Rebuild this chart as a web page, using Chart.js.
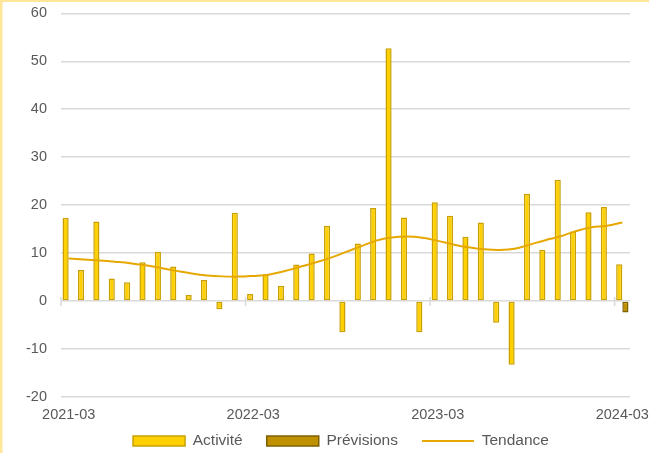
<!DOCTYPE html>
<html lang="fr">
<head>
<meta charset="utf-8">
<title>Activité mensuelle</title>
<script src="https://cdn.jsdelivr.net/npm/chart.js@4/dist/chart.umd.min.js"></script>
<style>
  html, body { margin: 0; padding: 0; background: #ffffff; }
  #wrap { position: relative; width: 649px; height: 453px; }
</style>
</head>
<body>
<div id="wrap"><canvas id="chart" width="649" height="453"></canvas></div>
<script>
// Monthly categories, March 2021 to March 2024
const mois = [
  '2021-03','2021-04','2021-05','2021-06','2021-07','2021-08','2021-09','2021-10','2021-11','2021-12',
  '2022-01','2022-02','2022-03','2022-04','2022-05','2022-06','2022-07','2022-08','2022-09','2022-10',
  '2022-11','2022-12','2023-01','2023-02','2023-03','2023-04','2023-05','2023-06','2023-07','2023-08',
  '2023-09','2023-10','2023-11','2023-12','2024-01','2024-02','2024-03'
];

// Observed activity
const activite = [
  17.3, 6.5, 16.6, 4.7, 3.9, 8.1, 10.3, 7.2, 1.25, 4.4,
  -1.7, 18.4, 1.5, 5.6, 3.2, 7.6, 9.9, 15.7, -6.5, 12.0,
  19.4, 52.7, 17.4, -6.5, 20.6, 17.8, 13.4, 16.4, -4.5, -13.3,
  22.4, 10.7, 25.3, 14.5, 18.5, 19.6, 7.7
];

// Forecast (last month only)
const previsions = [
  null, null, null, null, null, null, null, null, null, null,
  null, null, null, null, null, null, null, null, null, null,
  null, null, null, null, null, null, null, null, null, null,
  null, null, null, null, null, null, -2.4
];

// Smoothed trend
const tendance = [
  8.9, 8.65, 8.45, 8.2, 7.9, 7.45, 6.9, 6.3, 5.75, 5.35,
  5.15, 5.1, 5.25, 5.5, 6.2, 7.1, 8.0, 9.0, 10.2, 11.4,
  12.6, 13.25, 13.45, 13.2, 12.55, 11.8, 11.2, 10.8, 10.65, 10.9,
  11.8, 12.7, 13.5, 14.6, 15.4, 15.7, 16.4
];

const yTicks = [-20, -10, 0, 10, 20, 30, 40, 50, 60];
const yearTickEvery = 12;

const FONT = '"Liberation Sans", Arial, sans-serif';
const GRID = '#d9d9d9';
const TEXT = '#595959';

// Light frame around the chart, yearly tick marks on the zero line,
// and the legend row placed just under the axis labels
const decor = {
  id: 'decor',
  afterLayout(chart) {
    const lg = chart.legend;
    const xs = chart.scales.x;
    if (lg && xs) {
      lg.left += 26;
      lg.right += 26;
      lg.top = xs.top + 12.25;
      lg.bottom = chart.height;
    }
  },
  beforeDraw(chart) {
    const ctx = chart.ctx;
    ctx.save();
    ctx.strokeStyle = '#ffe699';
    ctx.lineWidth = 2.5;
    ctx.beginPath();
    ctx.moveTo(1.25, chart.height);
    ctx.lineTo(1.25, 0.75);
    ctx.lineTo(chart.width, 0.75);
    ctx.stroke();
    ctx.restore();
  },
  afterDatasetsDraw(chart) {
    const ctx = chart.ctx;
    const x = chart.scales.x, y = chart.scales.y;
    const y0 = y.getPixelForValue(0);
    const step = (x.right - x.left) / mois.length;
    ctx.save();
    ctx.strokeStyle = GRID;
    ctx.lineWidth = 1.5;
    ctx.beginPath();
    for (let i = 0; i <= mois.length; i += yearTickEvery) {
      const px = x.left + i * step;
      ctx.moveTo(px, y0 - 4);
      ctx.lineTo(px, y0 + 5);
    }
    ctx.stroke();
    ctx.restore();
  }
};

new Chart(document.getElementById('chart'), {
  data: {
    labels: mois,
    datasets: [
      {
        type: 'bar',
        label: 'Activité',
        data: activite,
        backgroundColor: '#ffd000',
        borderColor: '#c9a000',
        borderWidth: 1.5,
        borderSkipped: false,
        categoryPercentage: 0.8,
        barPercentage: 1,
        order: 1
      },
      {
        type: 'bar',
        label: 'Prévisions',
        data: previsions,
        backgroundColor: '#bf9000',
        borderColor: '#7f6000',
        borderWidth: 1.5,
        borderSkipped: false,
        categoryPercentage: 0.8,
        barPercentage: 1,
        order: 1
      },
      {
        type: 'line',
        label: 'Tendance',
        data: tendance,
        borderColor: '#e6a800',
        backgroundColor: '#e6a800',
        borderWidth: 2,
        pointRadius: 0,
        tension: 0.4,
        fill: false,
        order: 0
      }
    ]
  },
  options: {
    responsive: false,
    animation: false,
    layout: { padding: { top: 13.3, right: 19, left: 0, bottom: 0 } },
    plugins: {
      tooltip: { enabled: false },
      legend: {
        position: 'bottom',
        maxHeight: 10,
        labels: {
          usePointStyle: true,
          pointStyleWidth: 52,
          boxHeight: 10,
          padding: 24,
          color: TEXT,
          font: { family: FONT, size: 15.5 },
          sort: (a, b) => a.datasetIndex - b.datasetIndex,
          generateLabels(chart) {
            const items = Chart.defaults.plugins.legend.labels.generateLabels(chart);
            items.forEach(it => {
              it.pointStyle = chart.data.datasets[it.datasetIndex].type === 'line' ? 'line' : 'rect';
            });
            return items;
          }
        }
      }
    },
    scales: {
      x: {
        grid: { display: false, drawTicks: false },
        border: { display: false },
        afterFit(s) {
          s.height = 46;
          s.paddingLeft = 0;
          s.paddingRight = 0;
        },
        ticks: {
          autoSkip: false,
          maxRotation: 0,
          padding: 9.3,
          color: TEXT,
          font: { family: FONT, size: 14.5 },
          callback(v, i) { return i % yearTickEvery === 0 ? mois[i] : ''; }
        }
      },
      y: {
        min: yTicks[0],
        max: yTicks[yTicks.length - 1],
        afterBuildTicks(s) { s.ticks = yTicks.map(v => ({ value: v })); },
        afterFit(s) {
          s.width = 61;
          s.paddingTop = 0;
          s.paddingBottom = 0;
        },
        grid: { color: GRID, lineWidth: 1.5, drawTicks: false },
        border: { display: false },
        ticks: {
          padding: 14,
          color: TEXT,
          font: { family: FONT, size: 14.5 }
        }
      }
    }
  },
  plugins: [decor]
});
</script>
</body>
</html>
